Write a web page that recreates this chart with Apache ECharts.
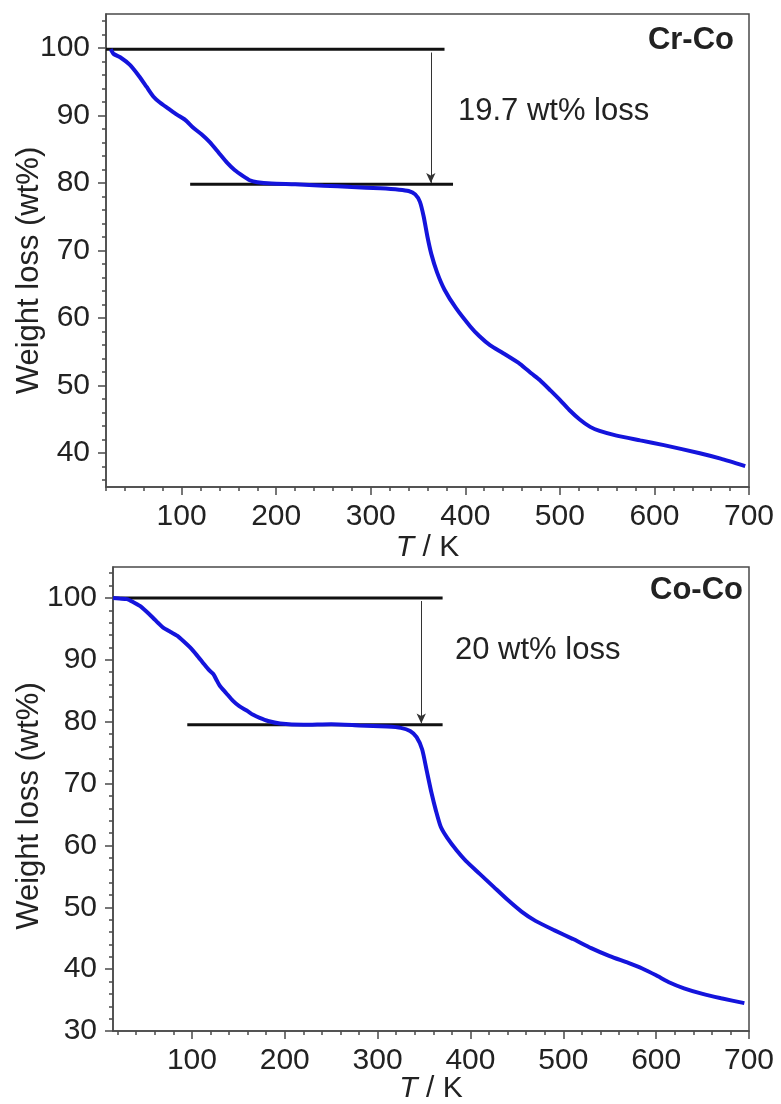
<!DOCTYPE html>
<html>
<head>
<meta charset="utf-8">
<script src="https://cdn.jsdelivr.net/npm/echarts@6/dist/echarts.min.js"></script>
<style>html,body{margin:0;padding:0;background:#fff}#c{width:781px;height:1104px}</style>
</head>
<body>
<div id="c"></div>
<script>
// ---- Cr-Co (top panel) ----
const crCoT = [25,28,35,45,55,63,70,77,86,95,104,112,121,130,139,148,156,165,172,180,195,220,250,280,310,330,340,347,352,356,360,364,370,378,390,405,415,426,440,458,470,479,490,500,510,521,532,542,560,585,610,648,670,696];
const crCoW = [99.8,99.1,98.6,97.5,95.8,94.2,92.8,91.9,91.0,90.1,89.3,88.2,87.2,86.0,84.5,83.0,81.9,81.0,80.4,80.1,79.9,79.8,79.6,79.4,79.2,79.0,78.8,78.3,77.2,75.0,72.0,69.5,66.8,64.2,61.5,58.8,57.3,56.0,54.8,53.2,51.8,50.8,49.3,47.9,46.4,45.0,43.9,43.3,42.6,41.9,41.2,40.0,39.2,38.1];
const crUpperT = [20, 378];  const crUpperW = 99.8;
const crLowerT = [109, 387]; const crLowerW = 79.8;
const crArrowT = 363.5;

// ---- Co-Co (bottom panel) ----
const coCoT = [15,22,30,37,44,51,58,64,69,77,84,91,98,105,112,118,123,127,130,137,144,151,159,166,173,182,195,220,250,280,310,325,335,342,348,353,358,363,368,375,385,395,410,425,440,455,470,490,510,530,550,570,585,600,615,630,650,670,695];
const coCoW = [100,99.9,99.8,99.3,98.7,97.8,96.8,95.9,95.2,94.5,93.9,93.0,92.0,90.8,89.5,88.4,87.7,86.6,85.8,84.6,83.4,82.5,81.8,81.1,80.6,80.1,79.7,79.5,79.6,79.4,79.2,79.0,78.5,77.5,75.5,72.0,68.5,65.5,63.0,61.2,59.2,57.5,55.4,53.3,51.2,49.3,47.8,46.3,44.9,43.4,42.1,41.0,40.1,39.0,37.8,36.9,36.0,35.3,34.5];
const coUpperT = [15, 370];  const coUpperW = 100;
const coLowerT = [95, 370];  const coLowerW = 79.5;
const coArrowT = 347;

// ---- tick labels ----
const xTicks = [100,200,300,400,500,600,700];
const yTicksTop = [40,50,60,70,80,90,100];
const yTicksBottom = [30,40,50,60,70,80,90,100];

function zip(a,b){return a.map((v,i)=>[v,b[i]]);}
function minor(from,to,step,majors){const r=[];for(let v=from;v<=to+1e-9;v+=step){if(majors.indexOf(v)<0)r.push(v);}return r;}

const FONT = 'Liberation Sans, Arial, Helvetica, sans-serif';
const AX = '#4a4a4a';
const TXT = '#222';
const BLUE = '#1414dc';

function mainX(grid, min){
  return {type:'value', gridIndex:grid, position:'bottom', min:min, max:700,
    axisLine:{show:true,onZero:false,lineStyle:{color:AX,width:1.5}},
    axisTick:{show:true,customValues:xTicks,length:8,lineStyle:{color:AX,width:1.5}},
    axisLabel:{customValues:xTicks,fontSize:30,color:TXT,fontFamily:FONT,margin:15},
    splitLine:{show:false},
    name:'{i|T} / K', nameLocation:'middle', nameGap:grid===0?46:43, nameMoveOverlap:false,
    nameTextStyle:{fontSize:30,color:TXT,fontFamily:FONT,rich:{i:{fontStyle:'italic',fontSize:30,color:TXT,fontFamily:FONT}}}
  };
}
function minorX(grid,min){
  return {type:'value', gridIndex:grid, position:'bottom', min:min, max:700,
    axisLine:{show:false}, axisLabel:{show:false}, splitLine:{show:false},
    axisTick:{show:true,customValues:minor(20,680,20,xTicks),length:4,lineStyle:{color:AX,width:1.5}}};
}
function mainY(grid,min,ticks,gap,pad){
  return {type:'value', gridIndex:grid, position:'left', min:min, max:105,
    axisLine:{show:true,onZero:false,lineStyle:{color:AX,width:1.5}},
    axisTick:{show:true,customValues:ticks,length:8,lineStyle:{color:AX,width:1.5}},
    axisLabel:{customValues:ticks,fontSize:30,color:TXT,fontFamily:FONT,margin:16},
    splitLine:{show:false},
    name:'Weight loss (wt%)', nameLocation:'middle', nameGap:gap, nameMoveOverlap:false,
    nameTextStyle:{fontSize:31,color:TXT,fontFamily:FONT,padding:pad}
  };
}
function minorY(grid,min,ticks){
  return {type:'value', gridIndex:grid, position:'left', min:min, max:105,
    axisLine:{show:false}, axisLabel:{show:false}, splitLine:{show:false},
    axisTick:{show:true,customValues:minor(Math.ceil(min/2)*2,104,2,ticks),length:4,lineStyle:{color:AX,width:1.5}}};
}
function refLine(xi,yi,ts,w){
  return {type:'line', xAxisIndex:xi, yAxisIndex:yi, data:[[ts[0],w],[ts[1],w]], symbol:'none',
    lineStyle:{color:'#111',width:3}, silent:true, z:3};
}
function curve(xi,yi,data,arrowT,w1,w2){
  return {type:'line', xAxisIndex:xi, yAxisIndex:yi, data:data, symbol:'none', smooth:0.2,
    lineStyle:{color:BLUE,width:4}, z:4,
    markLine:{silent:true, symbol:['none','arrow'], symbolSize:[7,10], label:{show:false},
      lineStyle:{color:'#333',width:1,type:'solid'},
      data:[[{coord:[arrowT,w1]},{coord:[arrowT,w2]}]]}};
}

const chart = echarts.init(document.getElementById('c'), null, {renderer:'canvas'});
chart.setOption({
  animation:false,
  backgroundColor:'#fff',
  grid:[
    {left:106, top:14, right:32, height:473, show:true, borderColor:AX, borderWidth:1.5, containLabel:false, outerBoundsMode:'none'},
    {left:113, top:567, right:32, height:464, show:true, borderColor:AX, borderWidth:1.5, containLabel:false, outerBoundsMode:'none'}
  ],
  xAxis:[mainX(0,20), minorX(0,20), mainX(1,15), minorX(1,15)],
  yAxis:[mainY(0,35,yTicksTop,61,[0,40,0,0]), minorY(0,35,yTicksTop), mainY(1,30,yTicksBottom,68,[0,14,0,0]), minorY(1,30,yTicksBottom)],
  series:[
    refLine(0,0,crUpperT,crUpperW),
    refLine(0,0,crLowerT,crLowerW),
    curve(0,0,zip(crCoT,crCoW),crArrowT,crUpperW-0.5,crLowerW+0.2),
    refLine(2,2,coUpperT,coUpperW),
    refLine(2,2,coLowerT,coLowerW),
    curve(2,2,zip(coCoT,coCoW),coArrowT,coUpperW-0.5,coLowerW+0.2)
  ],
  graphic:[
    {type:'text', right:47, top:25, style:{text:'Cr-Co', font:'bold 31px '+FONT, fill:TXT}},
    {type:'text', right:38, top:575, style:{text:'Co-Co', font:'bold 31px '+FONT, fill:TXT}},
    {type:'text', left:458, top:96, style:{text:'19.7 wt% loss', font:'31px '+FONT, fill:TXT}},
    {type:'text', left:455, top:635, style:{text:'20 wt% loss', font:'31px '+FONT, fill:TXT}}
  ]
});
</script>
</body>
</html>
